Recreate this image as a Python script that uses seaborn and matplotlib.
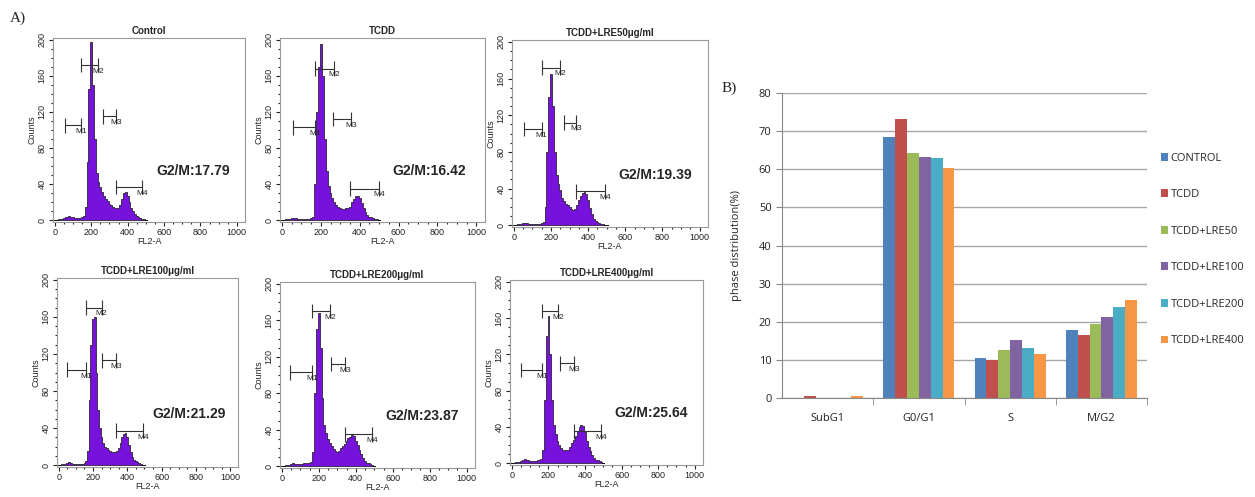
import numpy as np
import pandas as pd
import matplotlib
matplotlib.use('Agg')
import matplotlib.pyplot as plt
from matplotlib.ticker import MultipleLocator
import seaborn as sns

# %%
# flow cytometry histograms: counts per 10-unit FL2-A bin, 0..500
channels = np.arange(0, 510, 10)
control_counts = [0, 0, 1, 1, 1, 2, 3, 4, 5, 4, 3, 2, 2, 2, 2, 3, 5, 15, 65, 145,
                  198, 150, 90, 52, 42, 37, 31, 27, 24, 21, 18, 17, 15, 14, 13, 14, 17, 24, 30, 31,
                  27, 20, 14, 10, 7, 5, 3, 2, 1, 1, 0]
tcdd_counts = [0, 0, 1, 1, 1, 2, 2, 2, 1, 1, 1, 1, 1, 1, 1, 2, 3, 40, 120, 170,
               195, 160, 90, 55, 38, 30, 25, 20, 17, 15, 13, 12, 12, 14, 13, 15, 20, 24, 27, 27,
               25, 19, 13, 9, 6, 4, 3, 2, 1, 1, 0]
lre50_counts = [0, 0, 1, 1, 1, 2, 2, 2, 1, 1, 1, 1, 1, 1, 1, 2, 3, 20, 80, 140,
                165, 130, 80, 55, 45, 38, 30, 26, 23, 22, 20, 18, 17, 18, 22, 28, 32, 35, 36, 34,
                27, 19, 12, 7, 5, 3, 2, 1, 1, 0, 0]
lre100_counts = [0, 0, 1, 1, 1, 2, 3, 2, 1, 1, 1, 1, 1, 1, 1, 2, 4, 15, 70, 130,
                 158, 160, 100, 60, 40, 30, 24, 20, 18, 16, 15, 14, 14, 14, 15, 18, 24, 30, 34, 35,
                 30, 22, 14, 9, 6, 4, 3, 2, 1, 0, 0]
lre200_counts = [0, 0, 1, 1, 1, 2, 3, 2, 2, 2, 2, 2, 3, 3, 3, 4, 5, 15, 80, 150,
                 168, 130, 75, 45, 36, 30, 25, 22, 19, 17, 16, 17, 20, 22, 24, 28, 31, 32, 34, 33,
                 28, 23, 18, 13, 9, 6, 4, 3, 2, 1, 0]
lre400_counts = [0, 0, 1, 1, 1, 2, 4, 5, 4, 3, 2, 2, 2, 2, 3, 3, 5, 15, 70, 140,
                 162, 120, 70, 42, 32, 25, 20, 17, 15, 14, 14, 15, 18, 22, 26, 30, 36, 40, 42, 41,
                 34, 25, 18, 13, 9, 6, 4, 3, 2, 1, 0]

panel_titles = ['Control', 'TCDD', 'TCDD+LRE50\u03bcg/ml',
                'TCDD+LRE100\u03bcg/ml', 'TCDD+LRE200\u03bcg/ml', 'TCDD+LRE400\u03bcg/ml']
panel_counts = [control_counts, tcdd_counts, lre50_counts,
                lre100_counts, lre200_counts, lre400_counts]
g2m_values = ['17.79', '16.42', '19.39', '21.29', '23.87', '25.64']

# gate markers M1..M4: (start, end, height)
gates = [
    [(55, 145, 105), (145, 240, 172), (265, 335, 115), (335, 480, 37)],
    [(55, 170, 103), (170, 270, 168), (265, 355, 112), (350, 500, 35)],
    [(55, 150, 105), (150, 250, 172), (270, 335, 112), (335, 490, 37)],
    [(50, 160, 103), (160, 250, 170), (250, 335, 113), (335, 490, 37)],
    [(45, 165, 103), (165, 260, 170), (265, 340, 112), (340, 490, 35)],
    [(50, 165, 103), (165, 255, 168), (265, 340, 110), (340, 490, 35)],
]

# cell cycle phase distribution (%)
phases = ['SubG1', 'G0/G1', 'S', 'M/G2']
groups = ['CONTROL', 'TCDD', 'TCDD+LRE50', 'TCDD+LRE100', 'TCDD+LRE200', 'TCDD+LRE400']
subg1 = [0.0, 0.5, 0.0, 0.0, 0.0, 0.4]
g0g1 = [68.5, 73.3, 64.3, 63.2, 62.9, 60.4]
s_phase = [10.4, 10.0, 12.5, 15.3, 13.2, 11.5]
mg2 = [17.79, 16.42, 19.39, 21.29, 23.87, 25.64]
bar_colors = ['#4F81BD', '#C0504D', '#9BBB59', '#8064A2', '#4BACC6', '#F79646']

# %%
sns.set_style('white')
plt.rcParams['font.family'] = ['Liberation Sans', 'DejaVu Sans']

W, H = 1255, 497
fig = plt.figure(figsize=(W / 100, H / 100), dpi=100)


def px_axes(l, t, r, b):
    return fig.add_axes([l / W, 1 - b / H, (r - l) / W, (b - t) / H])


boxes = [(53, 38, 245, 222), (280, 38, 485, 222), (512, 40, 708, 227),
         (57, 278, 238, 467), (280, 282, 475, 468), (510, 280, 703, 465)]

for title, counts, g2m, gate, box in zip(panel_titles, panel_counts, g2m_values, gates, boxes):
    ax = px_axes(*box)
    hist_df = pd.DataFrame({'FL2-A': channels, 'n': counts})
    sns.histplot(data=hist_df, x='FL2-A', weights='n', binwidth=10, binrange=(-5, 505),
                 element='step', fill=True, color='#7612DC', alpha=1,
                 edgecolor='#111', linewidth=0.5, ax=ax)
    ax.set_xlim(-10, 1045)
    ax.set_ylim(-2, 202)
    ax.set_xticks(range(0, 1001, 200))
    ax.set_yticks(range(0, 201, 40))
    ax.xaxis.set_minor_locator(MultipleLocator(50))
    ax.yaxis.set_minor_locator(MultipleLocator(10))
    ax.tick_params(which='major', direction='out', length=3, width=0.8,
                   labelsize=6.5, pad=1.5, left=True, bottom=True, colors='#222')
    ax.tick_params(which='minor', direction='out', length=1.5, width=0.8,
                   left=True, bottom=True, colors='#222')
    for lab in ax.get_yticklabels():
        lab.set_rotation(90)
        lab.set_va('center')
    for sp in ax.spines.values():
        sp.set_color('#999')
        sp.set_linewidth(0.8)
    ax.set_title(title, fontsize=7, fontweight='bold', pad=3)
    ax.set_xlabel('FL2-A', fontsize=6.5, labelpad=0)
    ax.set_ylabel('Counts', fontsize=6.5, labelpad=1)
    for i, (x0, x1, y) in enumerate(gate):
        ax.hlines(y, x0, x1, color='#333', lw=0.8)
        ax.vlines([x0, x1], y - 8, y + 8, color='#333', lw=0.8)
        ax.text(x1, y - 3, f'M{i + 1}', fontsize=6, ha='center', va='top', color='#222')
    ax.text(760, 55, f'G2/M:{g2m}', fontsize=10, fontweight='bold', ha='center', va='center')

# %%
df = pd.DataFrame({'phase': np.repeat(phases, len(groups)),
                   'group': groups * len(phases),
                   'value': subg1 + g0g1 + s_phase + mg2})

axb = px_axes(782, 93, 1147, 398)
sns.barplot(data=df, x='phase', y='value', hue='group', palette=bar_colors,
            width=0.78, saturation=1, linewidth=0, ax=axb)
axb.set_xlim(-0.5, 3.5)
axb.set_ylim(0, 80)
axb.set_yticks(range(0, 81, 10))
axb.set_axisbelow(True)
axb.yaxis.grid(True, color='#a6a6a6', lw=1)
for side in ['top', 'right']:
    axb.spines[side].set_visible(False)
for side in ['left', 'bottom']:
    axb.spines[side].set_color('#888')
axb.tick_params(axis='y', direction='out', length=4, color='#888', labelsize=8, labelcolor='#222', left=True)
axb.tick_params(axis='x', length=0, labelsize=8, labelcolor='#222', pad=11)
axb.set_xticks([0.5, 1.5, 2.5, 3.5], minor=True)
axb.tick_params(axis='x', which='minor', length=5, color='#888', bottom=True)
for lab in axb.get_xticklabels() + axb.get_yticklabels():
    lab.set_family(['Open Sans', 'DejaVu Sans'])
axb.set_xlabel('')
axb.set_ylabel('phase distribution(%)', fontsize=8, family=['Open Sans', 'DejaVu Sans'], labelpad=12)

handles, labels = axb.get_legend_handles_labels()
axb.get_legend().remove()
fig.legend(handles, labels, loc='upper left', bbox_to_anchor=(1155 / W, 1 - 147 / H),
           frameon=False, borderpad=0, handlelength=0.7, handleheight=0.7,
           handletextpad=0.2, labelspacing=2.3, prop={'family': ['Open Sans', 'DejaVu Sans'], 'size': 8})

fig.text(10 / W, 1 - 18 / H, 'A)', fontsize=11, family='Liberation Serif', va='center')
fig.text(722 / W, 1 - 88 / H, 'B)', fontsize=11, family='Liberation Serif', va='center')

plt.savefig('out.png', dpi=100, facecolor='white')
